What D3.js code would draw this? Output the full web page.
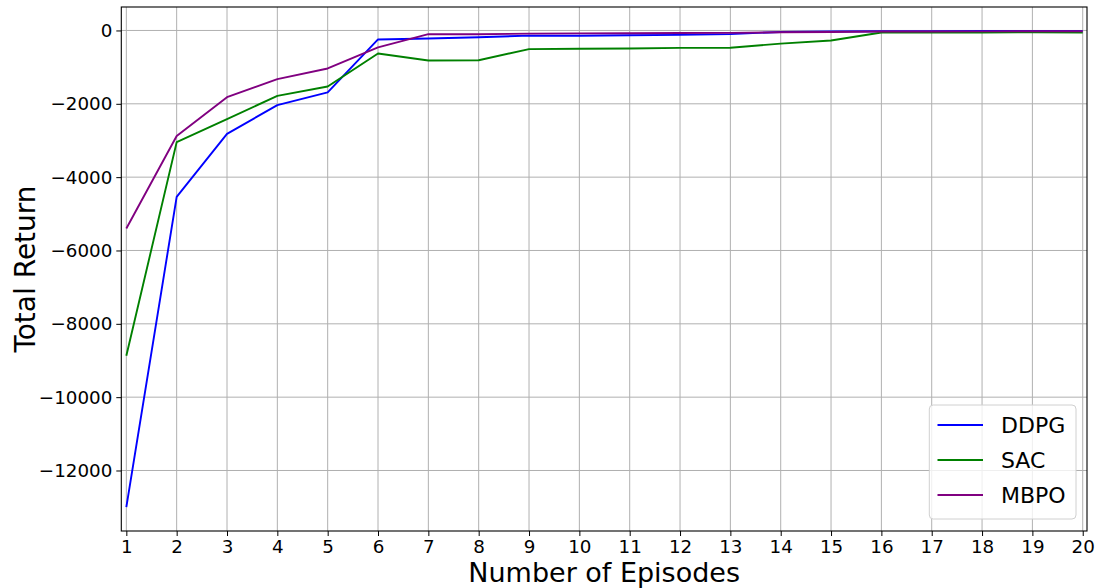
<!DOCTYPE html>
<html><head><meta charset="utf-8">
<script src="https://cdn.jsdelivr.net/npm/d3@7"></script>
<style>body{margin:0;background:#fff;}svg{display:block;font-family:"DejaVu Sans",sans-serif;}</style>
</head><body><svg id="c" width="1099" height="588"></svg>
<script>
const episodes = [1,2,3,4,5,6,7,8,9,10,11,12,13,14,15,16,17,18,19,20];
const ddpg = [-13000,-4540,-2820,-2035,-1690,-245,-218,-185,-140,-145,-130,-120,-100,-40,-30,-20,-20,-15,-10,-10];
const sac  = [-8870,-3045,-2420,-1782,-1528,-628,-818,-812,-508,-500,-490,-475,-470,-360,-272,-55,-58,-55,-50,-60];
const mbpo = [-5400,-2880,-1818,-1327,-1036,-463,-100,-105,-85,-80,-75,-70,-65,-50,-40,-30,-30,-25,-20,-20];
const xTicks = episodes;
const yTicks = [0,-2000,-4000,-6000,-8000,-10000,-12000];
const seriesNames = ["DDPG","SAC","MBPO"];
const seriesColors = ["#0000ff","#008000","#800080"];
const seriesData = [ddpg, sac, mbpo];

const svg = d3.select("#c");
const L=121.3, R=1087, T=7, B=531;
const x = d3.scaleLinear().domain([0.9,20.085]).range([L,R]);
const y = d3.scaleLinear().domain([-13650,640]).range([B,T]);

// grid
const g = svg.append("g");
g.selectAll(".vx").data(xTicks).enter().append("line")
 .attr("x1",d=>x(d)).attr("x2",d=>x(d)).attr("y1",T).attr("y2",B)
 .attr("stroke","#b0b0b0").attr("stroke-width",1);
g.selectAll(".hy").data(yTicks).enter().append("line")
 .attr("y1",d=>y(d)).attr("y2",d=>y(d)).attr("x1",L).attr("x2",R)
 .attr("stroke","#b0b0b0").attr("stroke-width",1);

// lines
const line = d3.line().x((d,i)=>x(episodes[i])).y(d=>y(d));
seriesData.forEach((s,k)=>{
  svg.append("path").datum(s).attr("d",line).attr("fill","none")
   .attr("stroke",seriesColors[k]).attr("stroke-width",1.9).attr("stroke-linejoin","round");
});

// frame
svg.append("rect").attr("x",L).attr("y",T).attr("width",R-L).attr("height",B-T)
 .attr("fill","none").attr("stroke","#000").attr("stroke-width",1.1);

// axes
const fmt = d=> d<0 ? "\u2212"+Math.abs(d) : String(d);
const xAxis = d3.axisBottom(x).tickValues(xTicks).tickSize(5).tickPadding(4).tickFormat(d=>d);
const xa = svg.append("g").attr("transform",`translate(0,${B})`).call(xAxis);
const yAxis = d3.axisLeft(y).tickValues(yTicks).tickSize(5).tickPadding(4).tickFormat(fmt);
const ya = svg.append("g").attr("transform",`translate(${L},0)`).call(yAxis);
[xa,ya].forEach(a=>{
  a.select(".domain").remove();
  a.selectAll("text").attr("font-size","18.3px").attr("font-family","DejaVu Sans").attr("fill","#000");
  a.selectAll("line").attr("stroke","#000").attr("stroke-width",1);
});

svg.append("text").attr("x",(L+R)/2).attr("y",582).attr("text-anchor","middle")
 .attr("font-size","27px").text("Number of Episodes");
svg.append("text").attr("transform",`translate(35,${(T+B)/2}) rotate(-90)`).attr("text-anchor","middle")
 .attr("font-size","28px").text("Total Return");

// legend
const lg = svg.append("g");
lg.append("rect").attr("x",929.3).attr("y",405).attr("width",146.7).attr("height",114).attr("rx",4)
 .attr("fill","#fff").attr("fill-opacity",0.8).attr("stroke","#d0d0d0").attr("stroke-width",1);
seriesNames.forEach((n,k)=>{
  const yy = 425 + k*35;
  lg.append("line").attr("x1",937.5).attr("x2",983).attr("y1",yy).attr("y2",yy)
   .attr("stroke",seriesColors[k]).attr("stroke-width",1.9);
  lg.append("text").attr("x",1001).attr("y",yy+8).attr("font-size","22px").text(n);
});
</script></body></html>
